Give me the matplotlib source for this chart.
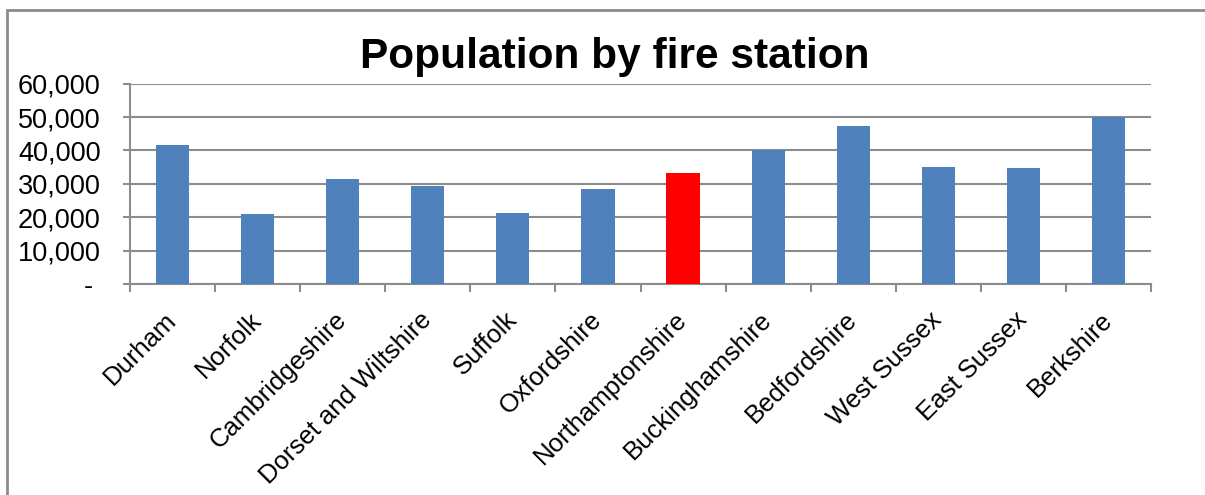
import matplotlib
matplotlib.use('Agg')
import matplotlib.pyplot as plt
from matplotlib.patches import Rectangle
from matplotlib.ticker import FuncFormatter, FixedLocator
import numpy as np

stations = ['Durham', 'Norfolk', 'Cambridgeshire', 'Dorset and Wiltshire', 'Suffolk',
            'Oxfordshire', 'Northamptonshire', 'Buckinghamshire', 'Bedfordshire',
            'West Sussex', 'East Sussex', 'Berkshire']
population = [41700, 21100, 31400, 29400, 21200, 28400, 33200, 40000, 47400, 35100, 34800, 49900]
highlight = 'Northamptonshire'

plt.rcParams['font.family'] = ['Liberation Sans', 'DejaVu Sans']

fig = plt.figure(figsize=(12.05, 4.95), dpi=100)
ax = fig.add_axes([130 / 1205, 211 / 495, 1021 / 1205, 200.3 / 495])

x = np.arange(len(stations))
colors = ['#FF0000' if s == highlight else '#4F81BD' for s in stations]
ax.bar(x, population, width=0.39, color=colors, zorder=3)

ax.set_xlim(-0.5, len(stations) - 0.5)
ax.set_ylim(0, 60000)
ax.set_yticks(range(0, 60001, 10000))
ax.yaxis.set_major_formatter(FuncFormatter(lambda v, p: '- ' if v == 0 else f'{int(v):,}'))
ax.yaxis.grid(True, color='#8c8c8c', linewidth=1.5, zorder=0)

ax.set_xticks(x)
ax.set_xticklabels(stations, rotation=45, ha='right', va='center', rotation_mode='anchor')
ax.tick_params(axis='x', length=0, pad=23, labelsize=18.5)
ax.xaxis.set_minor_locator(FixedLocator(np.arange(-0.5, len(stations), 1.0)))
ax.tick_params(axis='x', which='minor', length=6, width=1.5, color='#8c8c8c')
ax.tick_params(axis='y', length=5, width=1.5, color='#8c8c8c', labelsize=19.5, pad=16)

for side in ['top', 'right']:
    ax.spines[side].set_visible(False)
for side in ['left', 'bottom']:
    ax.spines[side].set_color('#8c8c8c')
    ax.spines[side].set_linewidth(1.5)

fig.text(615 / 1205, 1 - 57 / 495, 'Population by fire station', ha='center', va='center',
         fontsize=30.5, fontweight='bold')

# outer chart border
fig.patches.append(Rectangle((6.5 / 1205, -0.1), 1.2, 1 - 10 / 495 + 0.1,
                             transform=fig.transFigure, fill=False,
                             edgecolor='#8c8c8c', linewidth=2))

fig.savefig('out.png', dpi=100)
